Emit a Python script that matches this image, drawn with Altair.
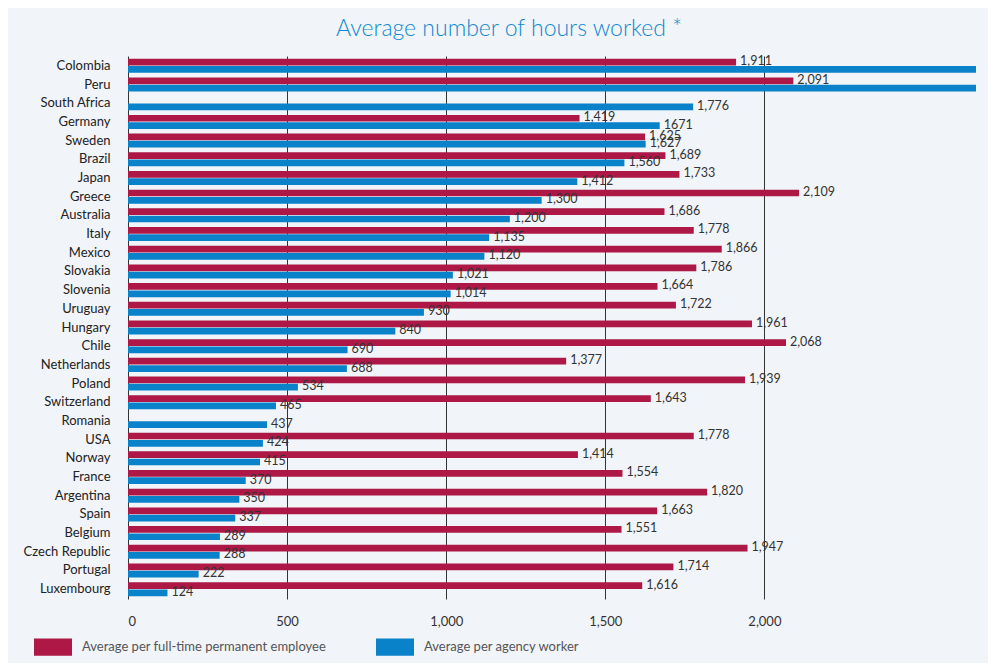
import altair as alt
import pandas as pd

countries = ["Colombia", "Peru", "South Africa", "Germany", "Sweden", "Brazil", "Japan",
             "Greece", "Australia", "Italy", "Mexico", "Slovakia", "Slovenia", "Uruguay",
             "Hungary", "Chile", "Netherlands", "Poland", "Switzerland", "Romania", "USA",
             "Norway", "France", "Argentina", "Spain", "Belgium", "Czech Republic",
             "Portugal", "Luxembourg"]

permanent = [1911, 2091, None, 1419, 1625, 1689, 1733, 2109, 1686, 1778, 1866, 1786, 1664,
             1722, 1961, 2068, 1377, 1939, 1643, None, 1778, 1414, 1554, 1820, 1663, 1551,
             1947, 1714, 1616]

# Colombia and Peru agency values run off the scale (no label shown)
agency = [2700, 2700, 1776, 1671, 1627, 1560, 1412, 1300, 1200, 1135, 1120, 1021, 1014,
          930, 840, 690, 688, 534, 465, 437, 424, 415, 370, 350, 337, 289, 288, 222, 124]

agency_text = [None, None, "1,776", "1671", "1,627", "1,560", "1,412", "1,300", "1,200",
               "1,135", "1,120", "1,021", "1,014", "930", "840", "690", "688", "534", "465",
               "437", "424", "415", "370", "350", "337", "289", "288", "222", "124"]

series_names = ["Average per full-time permanent employee", "Average per agency worker"]
series_colors = ["#ad1846", "#0a82c9"]
x_ticks = [0, 500, 1000, 1500, 2000]

rows = []
for i, c in enumerate(countries):
    if permanent[i] is not None:
        rows.append({"country": c, "series": series_names[0], "value": permanent[i],
                     "label": f"{permanent[i]:,}"})
    rows.append({"country": c, "series": series_names[1], "value": agency[i],
                 "label": agency_text[i]})
df = pd.DataFrame(rows)

FONT = "Lato"

y_enc = alt.Y("country:N", sort=countries, title=None,
              scale=alt.Scale(paddingInner=0.25, paddingOuter=0.15),
              axis=alt.Axis(domain=False, ticks=False, labelPadding=18, labelFontSize=13,
                            labelColor="#222", labelFont=FONT))
yoff_enc = alt.YOffset("series:N", sort=series_names,
                       scale=alt.Scale(domain=series_names, paddingInner=0.08))
x_enc = alt.X("value:Q", title=None,
              scale=alt.Scale(domain=[0, 2665], clamp=True, nice=False, zero=True),
              axis=alt.Axis(values=x_ticks, format=",.0f", grid=True, gridColor="#333",
                            gridWidth=1, gridOpacity=1, tickSize=0, domain=False,
                            labelPadding=16, labelFontSize=13, labelColor="#333",
                            labelFont=FONT))

bars = alt.Chart(df).mark_bar().encode(
    y=y_enc,
    yOffset=yoff_enc,
    x=x_enc,
    color=alt.Color("series:N", sort=series_names,
                    scale=alt.Scale(domain=series_names, range=series_colors),
                    legend=alt.Legend(orient="none", legendX=-94, legendY=572,
                                      direction="horizontal", title=None,
                                      symbolType="M-1,-0.458L1,-0.458L1,0.458L-1,0.458Z",
                                      symbolSize=1444, symbolStrokeWidth=0,
                                      symbolOpacity=1, labelFontSize=13,
                                      labelColor="#555", labelFont=FONT, labelOffset=10,
                                      columnPadding=49, padding=0, labelLimit=400)),
)

labels = alt.Chart(df).transform_filter("isValid(datum.label)").mark_text(
    align="left", baseline="middle", dx=4, dy=-1, fontSize=12.5, color="#333", font=FONT
).encode(
    y=alt.Y("country:N", sort=countries),
    yOffset=alt.YOffset("series:N", sort=series_names),
    x=alt.X("value:Q"),
    text="label:N",
)

chart = alt.layer(bars, labels).properties(
    width=848,
    height=543,
    autosize=alt.AutoSizeParams(type="none"),
    padding={"left": 120, "top": 48, "right": 12, "bottom": 64},
    title=alt.TitleParams("Average number of hours worked *", fontSize=23, font=FONT,
                          fontWeight=300, color="#0f89cf", anchor="middle",
                          frame="group", dx=-43, offset=-4, baseline="alphabetic"),
).configure(background="#f1f4f9").configure_view(strokeWidth=0)

chart.save("out.html", embed_options={"renderer": "svg", "actions": False})
